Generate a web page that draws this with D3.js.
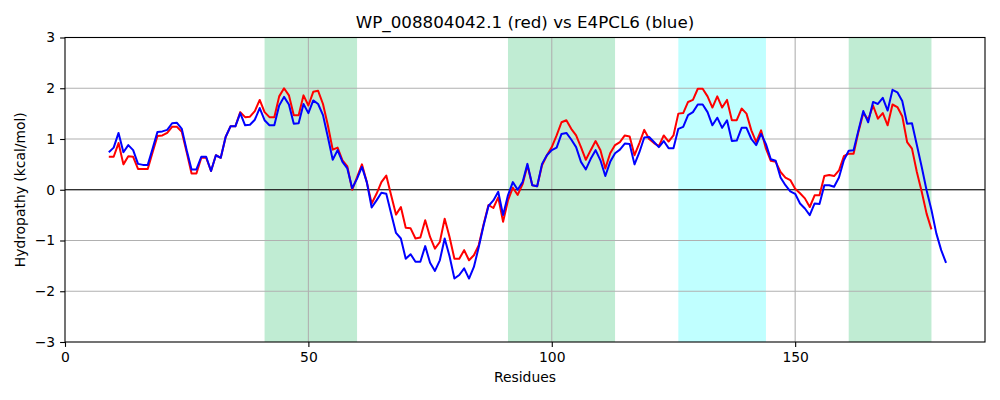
<!DOCTYPE html>
<html>
<head>
<meta charset="utf-8">
<script src="https://cdn.jsdelivr.net/npm/d3@7"></script>
<style>
  body { margin: 0; background: #fff; }
  text { font-family: "DejaVu Sans", sans-serif; }
</style>
</head>
<body>
<div id="chart"></div>
<script>
// ---------------------------//
//       DATA                 //
// ---------------------------//
var firstResidue = 9;

// WP_008804042.1 (red), residues 9..178
var redValues = [
  0.65, 0.65, 0.92, 0.50, 0.66, 0.65, 0.41, 0.41, 0.41, 0.74,
  1.06, 1.07, 1.12, 1.24, 1.24, 1.14, 0.74, 0.32, 0.32, 0.63,
  0.63, 0.37, 0.68, 0.63, 1.04, 1.25, 1.25, 1.53, 1.43, 1.44,
  1.55, 1.77, 1.53, 1.43, 1.43, 1.84, 2.00, 1.86, 1.47, 1.47,
  1.86, 1.66, 1.93, 1.95, 1.69, 1.27, 0.79, 0.83, 0.58, 0.46,
  0.00, 0.25, 0.50, 0.15, -0.27, -0.08, 0.15, 0.28, -0.11, -0.49,
  -0.34, -0.75, -0.76, -0.96, -0.94, -0.60, -0.93, -1.16, -1.03, -0.57,
  -0.93, -1.36, -1.36, -1.19, -1.39, -1.29, -1.09, -0.68, -0.30, -0.36,
  -0.15, -0.63, -0.21, 0.04, -0.10, 0.11, 0.48, 0.09, 0.07, 0.48,
  0.68, 0.84, 1.07, 1.33, 1.37, 1.20, 1.07, 0.84, 0.59, 0.78,
  0.96, 0.78, 0.42, 0.72, 0.88, 0.94, 1.07, 1.05, 0.68, 0.92,
  1.18, 1.00, 0.92, 0.86, 1.07, 0.95, 1.07, 1.50, 1.51, 1.73,
  1.77, 1.99, 1.99, 1.84, 1.62, 1.84, 1.62, 1.77, 1.37, 1.37,
  1.60, 1.50, 1.17, 0.94, 1.17, 0.81, 0.57, 0.55, 0.35, 0.24,
  0.19, 0.02, -0.07, -0.17, -0.34, -0.11, -0.11, 0.27, 0.29, 0.27,
  0.38, 0.66, 0.71, 0.71, 1.14, 1.51, 1.38, 1.66, 1.40, 1.51,
  1.27, 1.68, 1.63, 1.45, 0.94, 0.81, 0.35, -0.04, -0.47, -0.78
];

// E4PCL6 (blue), residues 9..181
var blueValues = [
  0.74, 0.83, 1.12, 0.74, 0.88, 0.78, 0.51, 0.49, 0.49, 0.81,
  1.14, 1.15, 1.18, 1.31, 1.32, 1.20, 0.78, 0.40, 0.40, 0.65,
  0.65, 0.37, 0.68, 0.63, 1.04, 1.25, 1.25, 1.51, 1.27, 1.28,
  1.38, 1.61, 1.37, 1.27, 1.27, 1.66, 1.83, 1.68, 1.30, 1.31,
  1.69, 1.51, 1.76, 1.69, 1.47, 1.04, 0.59, 0.78, 0.55, 0.42,
  0.03, 0.22, 0.45, 0.15, -0.35, -0.21, -0.06, -0.08, -0.47, -0.85,
  -0.96, -1.36, -1.27, -1.42, -1.42, -1.11, -1.44, -1.60, -1.39, -0.96,
  -1.31, -1.75, -1.68, -1.55, -1.75, -1.52, -1.13, -0.70, -0.32, -0.21,
  -0.04, -0.50, -0.11, 0.15, 0.00, 0.15, 0.51, 0.09, 0.07, 0.51,
  0.68, 0.78, 0.83, 1.10, 1.12, 0.99, 0.84, 0.55, 0.40, 0.61,
  0.78, 0.58, 0.27, 0.55, 0.72, 0.79, 0.91, 0.90, 0.50, 0.74,
  1.03, 1.04, 0.94, 0.84, 0.96, 0.82, 0.82, 1.20, 1.24, 1.47,
  1.53, 1.68, 1.68, 1.53, 1.27, 1.42, 1.22, 1.37, 0.96, 0.97,
  1.22, 1.22, 1.00, 0.88, 1.10, 0.90, 0.60, 0.57, 0.24, 0.09,
  -0.03, -0.08, -0.27, -0.37, -0.50, -0.27, -0.28, 0.09, 0.09, 0.06,
  0.24, 0.58, 0.77, 0.78, 1.17, 1.55, 1.33, 1.73, 1.69, 1.81,
  1.56, 1.97, 1.92, 1.75, 1.30, 1.31, 0.88, 0.45, -0.01, -0.40,
  -0.86, -1.19, -1.44
];

// highlighted residue ranges
var greenBands = [[41, 60], [91, 113], [161, 178]];
var cyanBands = [[126, 144]];

var xTicks = [0, 50, 100, 150];
var yTicks = [-3, -2, -1, 0, 1, 2, 3];

var titleText = "WP_008804042.1 (red) vs E4PCL6 (blue)";
var xLabelText = "Residues";
var yLabelText = "Hydropathy (kcal/mol)";

// ---------------------------//
//       SETUP                //
// ---------------------------//
var margin = {top: 37.5, right: 15, bottom: 58, left: 65},
    width = 1000 - margin.left - margin.right,
    height = 400 - margin.top - margin.bottom;

var svg = d3.select("#chart")
  .append("svg")
  .attr("width", 1000)
  .attr("height", 400)
  .append("g")
  .attr("transform", "translate(" + margin.left + "," + margin.top + ")");

var x = d3.scaleLinear().domain([0, 189]).range([0, width]);
var y = d3.scaleLinear().domain([-3, 3]).range([height, 0]);

var toPoints = function(vals) {
  return vals.map(function(v, i) { return [firstResidue + i, v]; });
};

// ---------------------------//
//       BANDS                //
// ---------------------------//
function drawBands(bands, color) {
  svg.append("g")
    .selectAll("rect")
    .data(bands)
    .enter()
    .append("rect")
    .attr("x", function(d) { return x(d[0]); })
    .attr("width", function(d) { return x(d[1]) - x(d[0]); })
    .attr("y", 0)
    .attr("height", height)
    .style("fill", color);
}
drawBands(greenBands, "#c0ecd3");
drawBands(cyanBands, "#c0ffff");

// ---------------------------//
//       GRID                 //
// ---------------------------//
svg.append("g")
  .selectAll("line")
  .data(xTicks.filter(function(d) { return d > 0; }))
  .enter()
  .append("line")
  .attr("x1", function(d) { return x(d); })
  .attr("x2", function(d) { return x(d); })
  .attr("y1", 0)
  .attr("y2", height)
  .attr("stroke", "#b0b0b0")
  .attr("stroke-width", 1.1);

svg.append("g")
  .selectAll("line")
  .data(yTicks.filter(function(d) { return d > -3 && d < 3; }))
  .enter()
  .append("line")
  .attr("x1", 0)
  .attr("x2", width)
  .attr("y1", function(d) { return y(d); })
  .attr("y2", function(d) { return y(d); })
  .attr("stroke", "#b0b0b0")
  .attr("stroke-width", 1.1);

// zero line
svg.append("line")
  .attr("x1", 0)
  .attr("x2", width)
  .attr("y1", y(0))
  .attr("y2", y(0))
  .attr("stroke", "#000")
  .attr("stroke-width", 1.1);

// ---------------------------//
//       LINES                //
// ---------------------------//
var line = d3.line()
  .x(function(d) { return x(d[0]); })
  .y(function(d) { return y(d[1]); });

svg.append("path")
  .datum(toPoints(redValues))
  .attr("d", line)
  .attr("fill", "none")
  .attr("stroke", "red")
  .attr("stroke-width", 2)
  .attr("stroke-linejoin", "round");

svg.append("path")
  .datum(toPoints(blueValues))
  .attr("d", line)
  .attr("fill", "none")
  .attr("stroke", "blue")
  .attr("stroke-width", 2)
  .attr("stroke-linejoin", "round");

// ---------------------------//
//       AXES                 //
// ---------------------------//
var fmt = function(d) { return d < 0 ? "\u2212" + Math.abs(d) : d; };

var xAxis = svg.append("g")
  .attr("transform", "translate(0," + height + ")")
  .call(d3.axisBottom(x).tickValues(xTicks).tickSize(4.9).tickPadding(4.9).tickFormat(fmt));

var yAxis = svg.append("g")
  .call(d3.axisLeft(y).tickValues(yTicks).tickSize(4.9).tickPadding(4.9).tickFormat(fmt));

[xAxis, yAxis].forEach(function(a) {
  a.select(".domain").remove();
  a.selectAll("text").style("font-size", "13.9px").attr("fill", "#000");
  a.selectAll("line").attr("stroke", "#000").attr("stroke-width", 1.1);
});

// frame
svg.append("rect")
  .attr("x", 0)
  .attr("y", 0)
  .attr("width", width)
  .attr("height", height)
  .attr("fill", "none")
  .attr("stroke", "#000")
  .attr("stroke-width", 1.1);

// ---------------------------//
//       LABELS               //
// ---------------------------//
svg.append("text")
  .attr("x", width / 2)
  .attr("y", -10)
  .attr("text-anchor", "middle")
  .style("font-size", "16.7px")
  .text(titleText);

svg.append("text")
  .attr("x", width / 2)
  .attr("y", height + 40)
  .attr("text-anchor", "middle")
  .style("font-size", "13.9px")
  .text(xLabelText);

svg.append("text")
  .attr("transform", "translate(" + (-40) + "," + (height / 2) + ") rotate(-90)")
  .attr("text-anchor", "middle")
  .style("font-size", "13.9px")
  .text(yLabelText);
</script>
</body>
</html>
